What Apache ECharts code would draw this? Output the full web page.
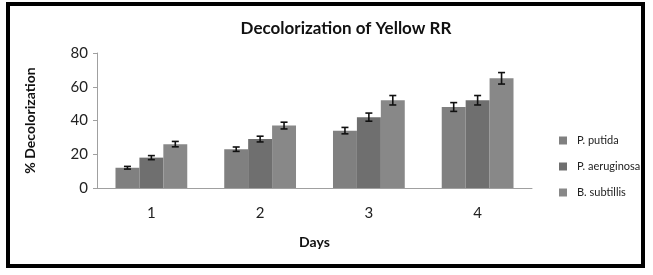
<!DOCTYPE html>
<html>
<head>
<meta charset="utf-8">
<script src="https://cdn.jsdelivr.net/npm/echarts@6/dist/echarts.min.js"></script>
<style>
    html, body { margin: 0; padding: 0; background: #fff; }
    #chart { width: 653px; height: 275px; }
</style>
</head>
<body>
<div id="chart"></div>
<script>
    var days = ['1', '2', '3', '4'];
    var seriesNames = ['P. putida', 'P. aeruginosa', 'B. subtillis'];
    var putida = [12, 23, 34, 48];
    var aeruginosa = [18, 29, 42, 52];
    var subtillis = [26, 37, 52, 65];
    var putidaErr = [0.8, 1.3, 1.9, 2.6];
    var aeruginosaErr = [1.2, 1.7, 2.4, 2.8];
    var subtillisErr = [1.6, 2.0, 2.8, 3.4];

    var colors = ['#808080', '#6f6f6f', '#888888'];
    var font = 'Lato';
    var catGap = 0.34;

    var values = [putida, aeruginosa, subtillis];
    var errs = [putidaErr, aeruginosaErr, subtillisErr];

    // error bars drawn on top of each bar (offset inside the category band)
    function errorSeries(idx) {
        var data = values[idx].map(function (v, i) { return [i, v, errs[idx][i]]; });
        return {
            type: 'custom',
            silent: true,
            z: 10,
            data: data,
            renderItem: function (params, api) {
                var band = api.size([1, 0])[0];
                var bw = band * (1 - catGap) / 3;
                var off = (idx - 1) * bw;
                var v = api.value(1), e = api.value(2);
                var hi = api.coord([api.value(0), v + e]);
                var lo = api.coord([api.value(0), v - e]);
                var x = hi[0] + off;
                var cap = 3.5;
                var style = { stroke: '#111', lineWidth: 1.6 };
                return {
                    type: 'group',
                    children: [
                        { type: 'line', shape: { x1: x, y1: hi[1], x2: x, y2: lo[1] }, style: style },
                        { type: 'line', shape: { x1: x - cap, y1: hi[1], x2: x + cap, y2: hi[1] }, style: style },
                        { type: 'line', shape: { x1: x - cap, y1: lo[1], x2: x + cap, y2: lo[1] }, style: style }
                    ]
                };
            }
        };
    }

    var barSeries = seriesNames.map(function (name, idx) {
        return {
            name: name,
            type: 'bar',
            data: values[idx],
            itemStyle: { color: colors[idx] },
            barGap: '0%',
            barCategoryGap: (catGap * 100) + '%'
        };
    });

    var chart = echarts.init(document.getElementById('chart'));
    var option = {
        animation: false,
        color: colors,
        graphic: [
            {
                type: 'rect',
                shape: { x: 8, y: 4, width: 635, height: 262 },
                style: { fill: 'none', stroke: '#000', lineWidth: 4 },
                z: 100
            }
        ],
        title: {
            text: 'Decolorization of Yellow RR',
            left: 341,
            textAlign: 'center',
            top: 15,
            textStyle: { fontFamily: font, fontSize: 17, fontWeight: 'bold', color: '#111' }
        },
        legend: {
            orient: 'vertical',
            left: 554,
            top: 130,
            itemWidth: 8,
            itemHeight: 8,
            itemGap: 15,
            icon: 'rect',
            data: seriesNames,
            textStyle: { fontFamily: font, fontSize: 11, color: '#222', padding: [0, 0, 0, 5] }
        },
        grid: { left: 97, right: 121, top: 53, bottom: 87 },
        xAxis: {
            type: 'category',
            data: days,
            name: 'Days',
            nameLocation: 'middle',
            nameGap: 47,
            nameTextStyle: { fontFamily: font, fontSize: 14, fontWeight: 'bold', color: '#111' },
            axisLine: { lineStyle: { color: '#a0a0a0', width: 1 } },
            axisTick: { show: false },
            axisLabel: { fontFamily: font, fontSize: 15, color: '#222', margin: 18 }
        },
        yAxis: {
            type: 'value',
            min: 0,
            max: 80,
            interval: 20,
            name: '% Decolorization',
            nameLocation: 'middle',
            nameGap: 60,
            nameTextStyle: { fontFamily: font, fontSize: 14, fontWeight: 'bold', color: '#111' },
            axisLine: { show: true, lineStyle: { color: '#a0a0a0', width: 1 } },
            axisTick: { show: true, length: 4, lineStyle: { color: '#a0a0a0' } },
            splitLine: { show: false },
            axisLabel: { fontFamily: font, fontSize: 15, color: '#222', margin: 9 }
        },
        series: barSeries.concat([errorSeries(0), errorSeries(1), errorSeries(2)])
    };
    chart.setOption(option);
</script>
</body>
</html>
